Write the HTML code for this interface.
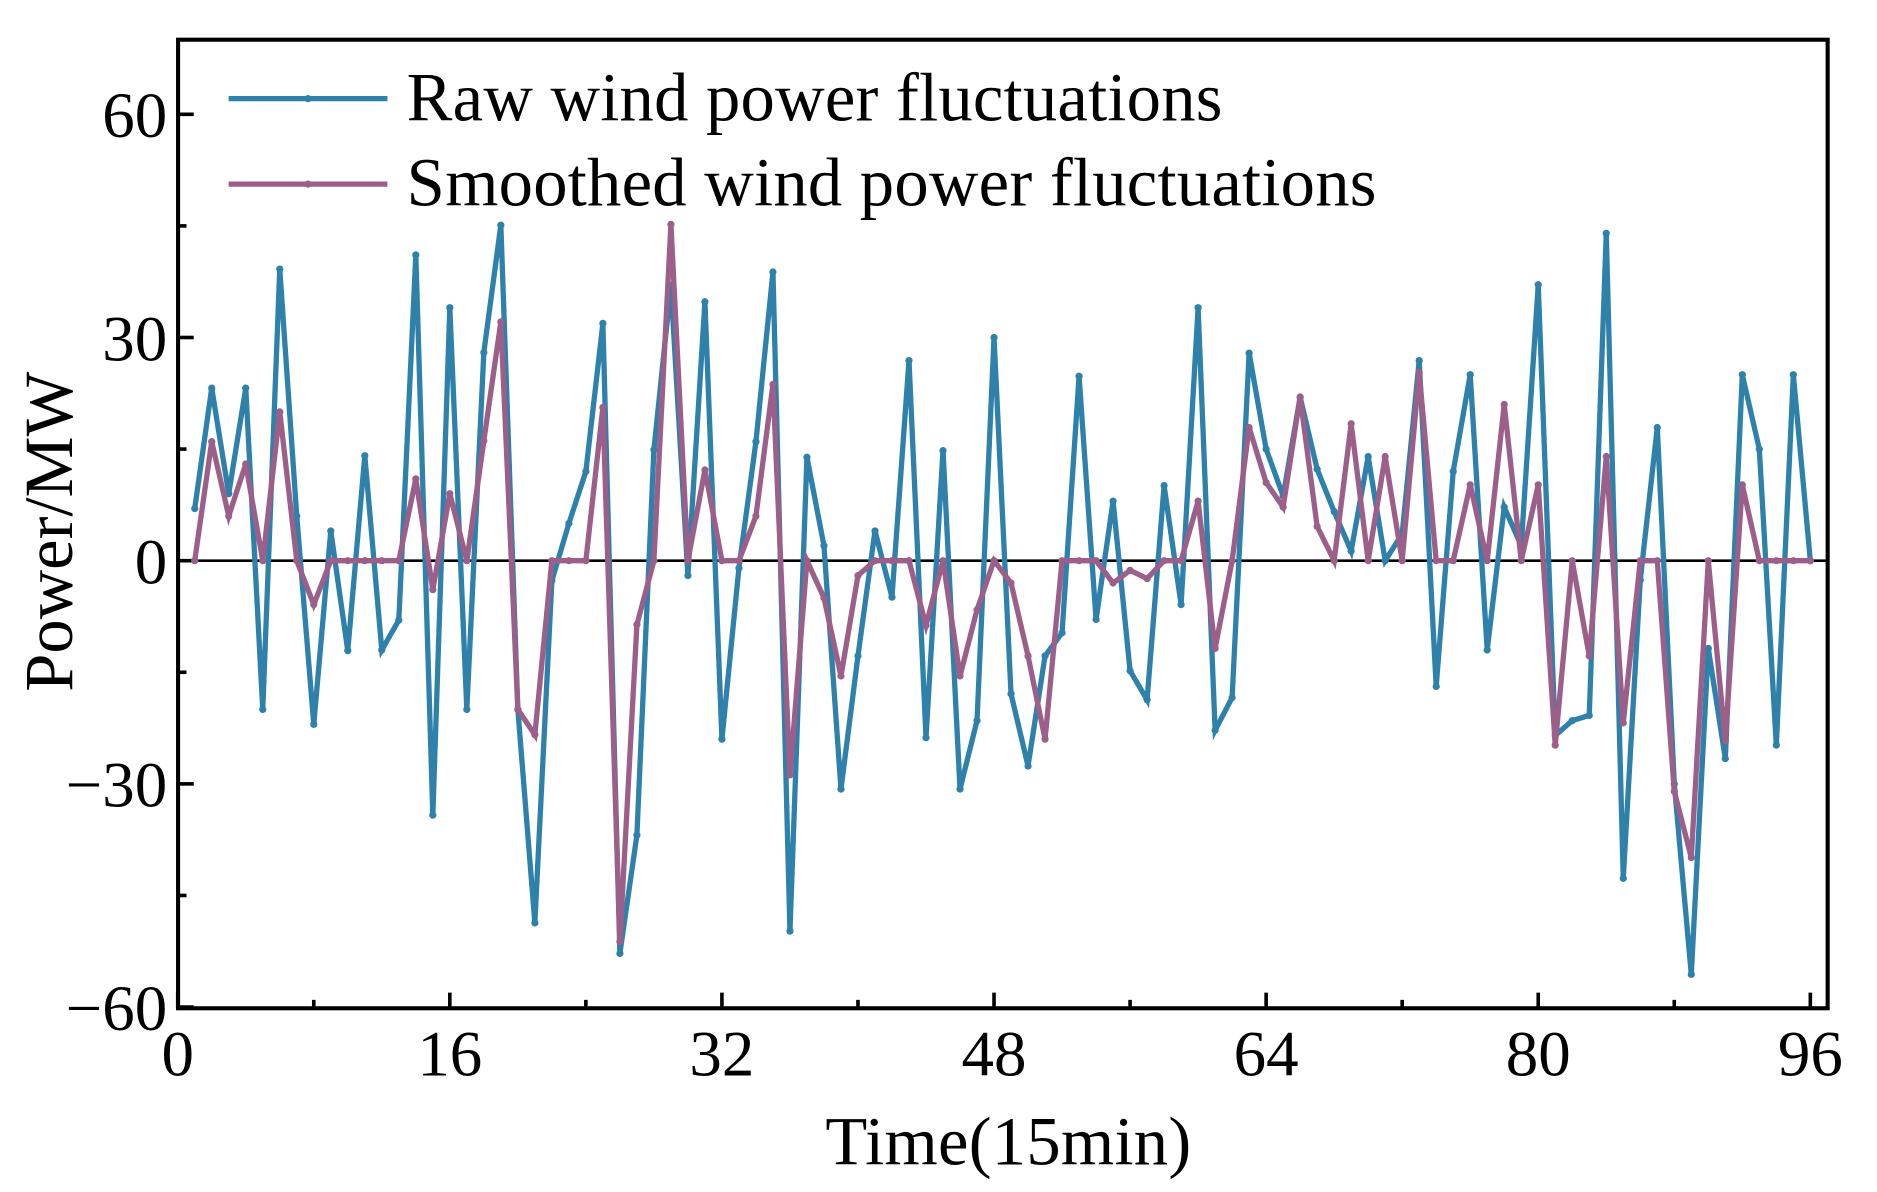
<!DOCTYPE html>
<html><head><meta charset="utf-8"><style>
html,body{margin:0;padding:0;background:#fff;}
svg{display:block;}
text{font-family:"Liberation Serif","Times New Roman",serif;fill:#000;}
</style></head><body>
<svg id="chart" width="1877" height="1192" viewBox="0 0 1560 990.7" xmlns="http://www.w3.org/2000/svg">
<g id="axes"></g>
<g id="series"></g>
<g id="legend"></g>
</svg>
<script>
const xTicks = [0, 16, 32, 48, 64, 80, 96];
const yTicks = [-60, -30, 0, 30, 60];
const yTickLabels = ["\u221260", "\u221230", "0", "30", "60"];
const rawValues = [7,23.2,9,23.2,-20,39.2,6,-22,4,-12.1,14.1,-12,-8,41.1,-34.2,34,-20,28,45.1,-20,
-48.7,-2.7,5,12,31.9,-52.8,-36.9,14.9,37,-2,34.8,-24,-1,16,38.8,-49.8,13.9,2,-30.7,-12.8,
4,-4.9,26.9,-23.8,14.8,-30.7,-21.5,30,-17.9,-27.6,-12.8,-9.7,24.8,-7.9,8,-14.8,-18.7,10.1,-5.9,34,
-22.8,-18.4,27.9,15,8.7,22,12.3,6.6,1.3,14,0,3.6,26.9,-16.9,12,25,-12,7.2,2,37.1,
-23.5,-21.5,-20.8,44,-42.7,-2.6,17.9,-30,-55.6,-11.8,-26.6,25,15,-24.8,25,0];
const smoothValues = [0,16,6,13,0,20,0,-5.9,0,0,0,0,0,11,-3.9,9,0,16.1,32.1,-20,
-23.4,0,0,0,20.6,-51.2,-8.6,0,45.2,0,12.2,0,0,6,23.7,-28.8,0,-5,-15.5,-2,
0,0,0,-8.7,0,-15.5,-6.6,0,-3,-12.8,-24,0,0,0,-3,-1.3,-2.4,0,0,8,
-11.8,0,17.9,10.5,7.2,22,4.6,0,18.4,0,14,0,25.3,0,0,10.2,0,21,0,10.2,
-24.8,0,-12.8,14,-21.8,0,0,-31,-39.9,0,-24.2,10.2,0,0,0,0];
const seriesNames = ["Raw wind power fluctuations", "Smoothed wind power fluctuations"];

const NS = "http://www.w3.org/2000/svg";
const L = 148, R = 1519, T = 33, B = 838;
function xScale(t){ return 147.7 + (1504.6 - 147.7) * t / 96; }
function yScale(v){ return 466 - v * (466 - 95) / 60; }
function mk(tag, attrs, parent){ const e = document.createElementNS(NS, tag); for (const k in attrs) e.setAttribute(k, attrs[k]); parent.appendChild(e); return e; }

const axes = document.getElementById('axes');
const zl = mk('line', {x1:L, x2:R, y1:yScale(0), y2:yScale(0), stroke:'#000', 'stroke-width':2.2}, axes);


const fr = mk('rect', {x:L, y:T, width:R-L, height:B-T, fill:'none', stroke:'#000', 'stroke-width':3.4}, axes);


for (let i = 0; i < xTicks.length; i++) {
  const x = xScale(xTicks[i]);
  const tk = mk('line', {x1:x, x2:x, y1:B, y2:B-13, stroke:'#000', 'stroke-width':3}, axes);
  
  
  const lb = mk('text', {x:x, y:894, 'font-size':54, 'text-anchor':'middle'}, axes);
  lb.textContent = String(xTicks[i]);
  
  
  if (i < xTicks.length - 1) {
    const xm = xScale((xTicks[i] + xTicks[i+1]) / 2);
    const mt = mk('line', {x1:xm, x2:xm, y1:B, y2:B-7, stroke:'#000', 'stroke-width':3}, axes);
    
    
  }
}
for (let i = 0; i < yTicks.length; i++) {
  const y = yScale(yTicks[i]);
  const tk = mk('line', {x1:L, x2:L+13, y1:y, y2:y, stroke:'#000', 'stroke-width':3}, axes);
  
  
  const lb = mk('text', {x:139, y:y+19, 'font-size':54, 'text-anchor':'end'}, axes);
  lb.textContent = yTickLabels[i];
  
  
  if (i < yTicks.length - 1) {
    const ym = yScale((yTicks[i] + yTicks[i+1]) / 2);
    const mt = mk('line', {x1:L, x2:L+7, y1:ym, y2:ym, stroke:'#000', 'stroke-width':3}, axes);
    
    
  }
}
const xt = mk('text', {x:838, y:968, 'font-size':57, 'text-anchor':'middle', textLength:304}, axes);
xt.textContent = 'Time(15min)';


const yt = mk('text', {x:0, y:0, 'font-size':57, 'text-anchor':'middle', transform:'translate(60,442) rotate(-90)'}, axes);
yt.textContent = 'Power/MW';



const seriesG = document.getElementById('series');
const colors = ['#2e81aa', '#9b5f8a'];
const allData = [rawValues, smoothValues];
const seriesKeys = ['raw-series', 'smoothed-series'];
for (let s = 0; s < 2; s++) {
  const g = mk('g', {}, seriesG);
  
  
  const pts = allData[s].map((v, i) => xScale(i + 1).toFixed(2) + ',' + yScale(v).toFixed(2)).join(' ');
  const pl = mk('polyline', {points:pts, fill:'none', stroke:colors[s], 'stroke-width':4.4, 'stroke-linejoin':'miter', 'stroke-miterlimit':4}, g);
  
  
  allData[s].forEach((v, i) => {
    const c = mk('circle', {cx:xScale(i + 1), cy:yScale(v), r:3, fill:colors[s]}, g);
    
    
  });
}

const lg = document.getElementById('legend');
const legY = [82, 153];
const legLen = [678, 806];
for (let s = 0; s < 2; s++) {
  const ln = mk('line', {x1:190, x2:322, y1:legY[s], y2:legY[s], stroke:colors[s], 'stroke-width':4.4}, lg);
  
  
  const c = mk('circle', {cx:256, cy:legY[s], r:3, fill:colors[s]}, lg);
  
  
  const tx = mk('text', {x:338, y:legY[s] + 18, 'font-size':57, textLength:legLen[s]}, lg);
  tx.textContent = seriesNames[s];
  
  
}
</script>
</body></html>
